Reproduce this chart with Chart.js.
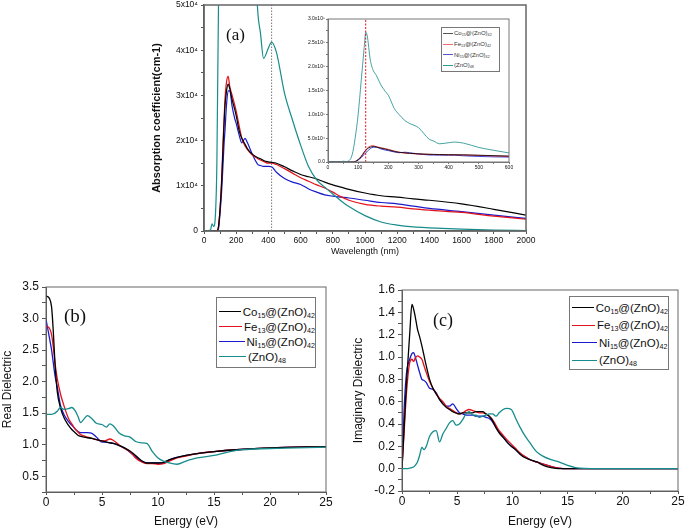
<!DOCTYPE html>
<html lang="en">
<head>
<meta charset="UTF-8" />
<title>Absorption and dielectric spectra</title>
<script src="https://cdn.jsdelivr.net/npm/chart.js"></script>
<style>
  body { margin: 0; background: #fff; font-family: "Liberation Sans", Arial, sans-serif; }
  #page { position: relative; width: 685px; height: 528px; overflow: hidden; }
  canvas { position: absolute; }
  .tag { position: absolute; font-family: "Liberation Serif", "Times New Roman", serif; color: #111; line-height: 1; }
  .legend { position: absolute; border: 1px solid #777; background: #fff; color: #111; box-sizing: content-box; }
  .legend div { display: flex; align-items: center; white-space: nowrap; }
  .legend .swatch { display: inline-block; border-top: 1.5px solid; }
  .legend sub { font-size: 62%; vertical-align: -0.3em; line-height: 0; }
  #legA { left: 441px; top: 27px; width: 57px; height: 43px; font-size: 6px; color: #333; }
  #legA div { height: 10.7px; }
  #legA .swatch { width: 10px; margin: 0 1px; border-top-width: 1px; }
  #legB { left: 216px; top: 297px; width: 98px; height: 63px; padding-top: 6px; font-size: 11.5px; }
  #legB div { height: 15px; }
  #legB .swatch { width: 27px; margin: 0 2px; }
  #legC { left: 569px; top: 296px; width: 98px; height: 70px; padding-top: 2px; font-size: 11.5px; }
  #legC div { height: 17.5px; }
  #legC .swatch { width: 25px; margin: 0 2px; }
</style>
</head>
<body>
<div id="page">
  <canvas id="absChart" width="395" height="268" style="left:145px; top:-10px;"></canvas>
  <canvas id="insetChart" width="232" height="176" style="left:290px; top:0px;"></canvas>
  <canvas id="realChart" width="340" height="260" style="left:0px; top:270px;"></canvas>
  <canvas id="imagChart" width="345" height="260" style="left:340px; top:270px;"></canvas>
  <div class="tag" style="left:226px; top:26px; font-size:17px;">(a)</div>
  <div class="tag" style="left:64px; top:306px; font-size:19px;">(b)</div>
  <div class="tag" style="left:433px; top:311px; font-size:18px;">(c)</div>
  <div class="legend" id="legA"></div>
  <div class="legend" id="legB"></div>
  <div class="legend" id="legC"></div>
</div>

<script>
// series names and colours (Co, Fe, Ni, ZnO)
const seriesNames = ['Co15@(ZnO)42', 'Fe13@(ZnO)42', 'Ni15@(ZnO)42', '(ZnO)48'];
const legendLabels = [
  'Co<sub>15</sub>@(ZnO)<sub>42</sub>',
  'Fe<sub>13</sub>@(ZnO)<sub>42</sub>',
  'Ni<sub>15</sub>@(ZnO)<sub>42</sub>',
  '(ZnO)<sub>48</sub>'
];
const seriesColors = ['#000000', '#e3121b', '#1a1acc', '#178c8c'];
const insetLegendColors = ['#555555', '#f06a6a', '#5555cc', '#2a9a9a'];

// (a) absorption coefficient, wavelength in nm, values in 1e4 cm-1
const wavelength = [0, 40, 50, 60, 70, 80, 90, 100, 110, 120,
  125, 130, 140, 150, 160, 175, 190, 200, 220, 235,
  255, 270, 300, 335, 350, 370, 400, 420, 450, 500,
  550, 600, 650, 700, 750, 800, 850, 900, 1000, 1100,
  1200, 1300, 1400, 1600, 1800, 2000];
const coAbs = [0, 0, 0, 0, 0, 0, 0.1, 0.5, 1.1, 2.0,
  2.4, 2.75, 3.1, 3.25, 3.15, 2.9, 2.7, 2.55, 2.2, 2.05,
  1.92, 1.82, 1.7, 1.62, 1.6, 1.56, 1.53, 1.52, 1.5, 1.42,
  1.33, 1.25, 1.2, 1.15, 1.08, 1.02, 0.97, 0.92, 0.84, 0.78,
  0.75, 0.71, 0.68, 0.6, 0.48, 0.35];
const feAbs = [0, 0, 0, 0, 0, 0, 0.1, 0.5, 1.2, 2.1,
  2.5, 2.9, 3.3, 3.42, 3.2, 3.0, 2.8, 2.65, 2.3, 2.05,
  1.88, 1.8, 1.68, 1.6, 1.57, 1.54, 1.5, 1.5, 1.47, 1.38,
  1.28, 1.18, 1.1, 1.02, 0.95, 0.86, 0.76, 0.68, 0.59, 0.55,
  0.53, 0.49, 0.46, 0.41, 0.33, 0.26];
const niAbs = [0, 0, 0, 0, 0, 0, 0.05, 0.4, 0.9, 1.6,
  1.95, 2.2, 2.8, 3.1, 3.1, 2.75, 2.5, 2.38, 2.1, 1.95,
  2.05, 1.95, 1.7, 1.47, 1.45, 1.43, 1.43, 1.42, 1.3, 1.16,
  1.08, 1.03, 0.93, 0.86, 0.8, 0.77, 0.75, 0.73, 0.68, 0.63,
  0.6, 0.55, 0.5, 0.43, 0.35, 0.28];
const znoAbs = [0, 0.02, 0.16, 0.1, 0.3, 1.5, 5.0, 10, 17, 24,
  27.2, 26.5, 21.5, 19.2, 18.2, 16.2, 14.8, 14.0, 11.2, 10.0,
  8.7, 8.1, 7.2, 4.8, 4.4, 3.82, 4.05, 4.18, 3.95, 3.05,
  2.45, 1.9, 1.42, 1.13, 0.97, 0.82, 0.67, 0.54, 0.34, 0.2,
  0.13, 0.09, 0.07, 0.04, 0.02, 0.01];
const absMarker = 420;    // dotted line, main plot
const insetMarker = 125;  // dashed line, inset

// (b) real part of dielectric function, energy in eV
const energyB = [0, 0.3, 0.5, 0.65, 0.8, 1.0, 1.3, 1.6, 2.0, 2.3,
  2.6, 2.85, 3.1, 3.4, 3.7, 4.1, 4.5, 5.0, 5.4, 5.7,
  6.0, 6.5, 7.0, 7.5, 8.0, 8.5, 9.0, 9.5, 10.0, 10.5,
  11.0, 11.7, 12.5, 13.5, 15, 17, 20, 25];
const coReal = [3.36, 3.32, 3.18, 2.8, 2.3, 1.85, 1.58, 1.43, 1.31, 1.24,
  1.19, 1.15, 1.13, 1.12, 1.11, 1.1, 1.08, 1.06, 1.04, 1.03,
  1.02, 0.99, 0.95, 0.9, 0.83, 0.75, 0.71, 0.71, 0.71, 0.72,
  0.76, 0.8, 0.83, 0.86, 0.89, 0.92, 0.95, 0.97];
const feReal = [2.88, 2.85, 2.74, 2.55, 2.3, 2.05, 1.8, 1.62, 1.42, 1.33,
  1.25, 1.2, 1.16, 1.14, 1.12, 1.1, 1.08, 1.06, 1.07, 1.09,
  1.07, 1.0, 0.94, 0.89, 0.79, 0.73, 0.7, 0.7, 0.69, 0.7,
  0.74, 0.79, 0.82, 0.86, 0.89, 0.92, 0.95, 0.97];
const niReal = [2.99, 2.7, 2.5, 2.3, 2.1, 1.92, 1.62, 1.48, 1.37, 1.31,
  1.25, 1.21, 1.19, 1.19, 1.19, 1.18, 1.12, 1.04, 1.04, 1.03,
  1.02, 0.99, 0.95, 0.88, 0.81, 0.74, 0.71, 0.71, 0.71, 0.71,
  0.76, 0.8, 0.83, 0.86, 0.89, 0.92, 0.95, 0.97];
const znoReal = [1.48, 1.48, 1.48, 1.49, 1.5, 1.53, 1.59, 1.56, 1.57, 1.59,
  1.54, 1.45, 1.35, 1.41, 1.46, 1.41, 1.34, 1.32, 1.28, 1.33,
  1.3, 1.19, 1.14, 1.12, 1.05, 1.03, 1.02, 0.89, 0.79, 0.74,
  0.71, 0.69, 0.74, 0.79, 0.83, 0.91, 0.94, 0.96];

// (c) imaginary part of dielectric function, energy in eV
const energyC = [0, 0.2, 0.4, 0.7, 0.9, 1.05, 1.2, 1.4, 1.6, 1.8,
  2.0, 2.2, 2.5, 2.8, 3.1, 3.4, 3.7, 4.0, 4.3, 4.6,
  4.9, 5.2, 5.5, 5.8, 6.1, 6.4, 6.7, 7.0, 7.3, 7.6,
  7.9, 8.2, 8.5, 8.8, 9.15, 9.5, 9.9, 10.3, 10.7, 11.1,
  11.6, 12.2, 12.8, 13.5, 14.2, 15.0, 15.7, 16.5, 18, 25];
const coImag = [0, 0.38, 0.76, 1.21, 1.47, 1.43, 1.36, 1.25, 1.18, 1.1,
  1.01, 0.92, 0.8, 0.72, 0.67, 0.62, 0.58, 0.55, 0.53, 0.51,
  0.5, 0.49, 0.5, 0.5, 0.5, 0.5, 0.51, 0.51, 0.51, 0.49,
  0.47, 0.43, 0.37, 0.32, 0.28, 0.24, 0.2, 0.17, 0.13, 0.1,
  0.08, 0.06, 0.03, 0.01, 0, 0, 0, 0, 0, 0];
const feImag = [0, 0.34, 0.67, 0.95, 0.98, 0.96, 0.99, 1.01, 1.0, 0.98,
  0.92, 0.86, 0.78, 0.72, 0.67, 0.63, 0.6, 0.56, 0.54, 0.52,
  0.5, 0.49, 0.5, 0.52, 0.53, 0.52, 0.51, 0.5, 0.5, 0.49,
  0.47, 0.44, 0.39, 0.34, 0.3, 0.26, 0.22, 0.18, 0.14, 0.11,
  0.08, 0.06, 0.04, 0.02, 0.005, 0, 0, 0, 0, 0];
const niImag = [0, 0.55, 0.85, 0.98, 1.03, 1.04, 1.0, 0.93, 0.86, 0.8,
  0.79, 0.77, 0.72, 0.71, 0.68, 0.62, 0.58, 0.56, 0.56, 0.58,
  0.54, 0.5, 0.49, 0.48, 0.48, 0.48, 0.47, 0.47, 0.47, 0.46,
  0.45, 0.42, 0.37, 0.33, 0.29, 0.24, 0.2, 0.17, 0.13, 0.11,
  0.08, 0.06, 0.04, 0.02, 0.005, 0, 0, 0, 0, 0];
const znoImag = [0, 0, 0, 0.005, 0.01, 0.015, 0.03, 0.06, 0.12, 0.19,
  0.17, 0.2, 0.29, 0.33, 0.34, 0.24, 0.31, 0.36, 0.41, 0.43,
  0.39, 0.4, 0.44, 0.49, 0.51, 0.48, 0.48, 0.46, 0.47, 0.48,
  0.49, 0.49, 0.47, 0.5, 0.53, 0.54, 0.53, 0.45, 0.37, 0.3,
  0.23, 0.15, 0.11, 0.08, 0.06, 0.03, 0.01, 0.002, 0, 0];

Chart.defaults.font.family = '"Liberation Sans", Arial, sans-serif';
Chart.defaults.color = '#111';

// box around the plot area, like the origin frame
Chart.register({
  id: 'frame',
  afterDraw(chart, args, o) {
    const a = chart.chartArea, ctx = chart.ctx;
    ctx.save();
    ctx.strokeStyle = o.color || '#666';
    ctx.lineWidth = o.width || 1;
    ctx.strokeRect(a.left, a.top, a.right - a.left, a.bottom - a.top);
    ctx.restore();
  }
});

function series(xs, ys, i, mult, width) {
  return {
    label: seriesNames[i],
    data: xs.map((x, k) => ({ x: x, y: ys[k] * mult })),
    borderColor: seriesColors[i],
    borderWidth: width,
    pointRadius: 0,
    fill: false,
    cubicInterpolationMode: 'monotone'
  };
}

function marker(x, top, color, dash) {
  return {
    label: 'marker',
    data: [{ x: x, y: 0 }, { x: x, y: top }],
    borderColor: color,
    borderWidth: 1,
    borderDash: dash,
    pointRadius: 0
  };
}

function axis(o) {
  return {
    type: 'linear',
    min: o.min, max: o.max,
    ticks: {
      stepSize: o.step, maxTicksLimit: 200, autoSkip: false, maxRotation: 0,
      font: { size: o.font }, padding: o.pad, color: '#111',
      callback: o.fmt
    },
    grid: { drawOnChartArea: false, tickLength: o.tick, color: o.line, tickWidth: 1 },
    border: { color: o.line, width: o.lw },
    title: o.title ? {
      display: true, text: o.title, color: '#111',
      font: { size: o.titleSize, weight: o.bold ? 'bold' : 'normal' },
      padding: o.titlePad
    } : { display: false },
    afterFit: function (ax) {
      if (o.w !== undefined) ax.width = o.w;
      if (o.h !== undefined) ax.height = o.h;
    }
  };
}

const near = (v, s) => Math.abs(v / s - Math.round(v / s)) < 1e-6;

function baseOptions(pad, scales, frameColor, frameWidth) {
  return {
    responsive: false,
    animation: false,
    devicePixelRatio: 1,
    layout: { padding: pad },
    events: [],
    plugins: {
      legend: { display: false },
      tooltip: { enabled: false },
      frame: { color: frameColor, width: frameWidth }
    },
    scales: scales
  };
}

// (a) main plot
new Chart(document.getElementById('absChart'), {
  type: 'line',
  data: {
    datasets: [
      marker(absMarker, 50000, '#777', [1.5, 1.5]),
      series(wavelength, znoAbs, 3, 1e4, 1.2),
      series(wavelength, coAbs, 0, 1e4, 1.2),
      series(wavelength, feAbs, 1, 1e4, 1.2),
      series(wavelength, niAbs, 2, 1e4, 1.2)
    ]
  },
  options: baseOptions({ left: 0, top: 15, right: 14, bottom: 0 }, {
    x: axis({ min: 0, max: 2000, step: 100, font: 8.5, pad: 2, tick: 3, line: '#555', lw: 1.5,
      fmt: v => near(v, 200) ? String(v) : '',
      title: 'Wavelength (nm)', titleSize: 9, titlePad: { top: 0, bottom: 1 }, h: 27 }),
    y: axis({ min: 0, max: 50000, step: 5000, font: 8.5, pad: 3, tick: 3, line: '#555', lw: 1.5,
      fmt: v => v === 0 ? '0' : (near(v, 10000) ? (v / 10000) + 'x10\u2074' : ''),
      title: 'Absorption coefficient(cm-1)', titleSize: 11, bold: true, titlePad: { top: 5, bottom: 0 }, w: 59 })
  }, '#666', 1.5)
});

// (a) inset, first 600 nm
const fmtInset = v => {
  if (v === 0) return '0.0';
  if (!near(v, 50000)) return '';
  return v < 100000 ? (v / 10000).toFixed(1) + 'x10\u2074' : (v / 100000).toFixed(1) + 'x10\u2075';
};
new Chart(document.getElementById('insetChart'), {
  type: 'line',
  data: {
    datasets: [
      marker(insetMarker, 300000, '#e3121b', [2, 1.5]),
      series(wavelength, znoAbs, 3, 1e4, 0.8),
      series(wavelength, coAbs, 0, 1e4, 0.8),
      series(wavelength, feAbs, 1, 1e4, 0.8),
      series(wavelength, niAbs, 2, 1e4, 0.8)
    ]
  },
  options: baseOptions({ left: 0, top: 19, right: 13, bottom: 0 }, {
    x: axis({ min: 0, max: 600, step: 50, font: 5, pad: 1, tick: 2, line: '#777', lw: 1,
      fmt: v => near(v, 100) ? String(v) : '', h: 14 }),
    y: axis({ min: 0, max: 300000, step: 25000, font: 5, pad: 1, tick: 2, line: '#777', lw: 1,
      fmt: fmtInset, w: 38 })
  }, '#777', 1)
});

// (b) real dielectric
new Chart(document.getElementById('realChart'), {
  type: 'line',
  data: {
    datasets: [
      series(energyB, znoReal, 3, 1, 1.3),
      series(energyB, coReal, 0, 1, 1.3),
      series(energyB, feReal, 1, 1, 1.3),
      series(energyB, niReal, 2, 1, 1.3)
    ]
  },
  options: baseOptions({ left: 0, top: 17, right: 14, bottom: 0 }, {
    x: axis({ min: 0, max: 25, step: 2.5, font: 12, pad: 0, tick: 3, line: '#555', lw: 1,
      fmt: v => near(v, 5) ? String(Math.round(v)) : '',
      title: 'Energy (eV)', titleSize: 12, titlePad: { top: 0, bottom: 1 }, h: 38 }),
    y: axis({ min: 0.25, max: 3.5, step: 0.25, font: 12, pad: 3, tick: 4, line: '#555', lw: 1,
      fmt: v => near(v, 0.5) ? v.toFixed(1) : '',
      title: 'Real Dielectric', titleSize: 12, titlePad: { top: 0, bottom: 0 }, w: 46 })
  }, '#666', 1)
});

// (c) imaginary dielectric
new Chart(document.getElementById('imagChart'), {
  type: 'line',
  data: {
    datasets: [
      series(energyC, znoImag, 3, 1, 1.3),
      series(energyC, coImag, 0, 1, 1.3),
      series(energyC, feImag, 1, 1, 1.3),
      series(energyC, niImag, 2, 1, 1.3)
    ]
  },
  options: baseOptions({ left: 0, top: 20, right: 7, bottom: 0 }, {
    x: axis({ min: 0, max: 25, step: 2.5, font: 12, pad: 0, tick: 3, line: '#555', lw: 1,
      fmt: v => near(v, 5) ? String(Math.round(v)) : '',
      title: 'Energy (eV)', titleSize: 12, titlePad: { top: 0, bottom: 1 }, h: 39 }),
    y: axis({ min: -0.2, max: 1.6, step: 0.1, font: 12, pad: 3, tick: 4, line: '#555', lw: 1,
      fmt: v => near(v, 0.2) ? (Math.round(v * 10) / 10).toFixed(1) : '',
      title: 'Imaginary Dielectric', titleSize: 12, titlePad: { top: 11, bottom: 0 }, w: 62 })
  }, '#666', 1)
});

// html legends with subscripts
function buildLegend(id, colors) {
  const box = document.getElementById(id);
  legendLabels.forEach((html, i) => {
    const row = document.createElement('div');
    row.innerHTML = '<span class="swatch" style="border-color:' + colors[i] + '"></span><span>' + html + '</span>';
    box.appendChild(row);
  });
}
buildLegend('legA', insetLegendColors);
buildLegend('legB', seriesColors);
buildLegend('legC', seriesColors);
</script>
</body>
</html>
